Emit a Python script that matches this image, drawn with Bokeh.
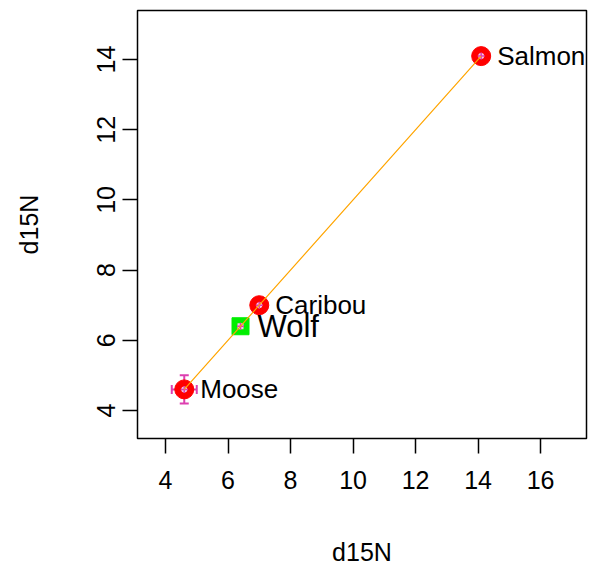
from bokeh.plotting import figure
from bokeh.models import Range1d, ColumnDataSource, Whisker, TeeHead, FixedTicker
from bokeh.embed import file_html
from bokeh.resources import INLINE
from bokeh.core.properties import value

source_names = ["Moose", "Caribou", "Salmon"]
source_x = [4.6, 7.0, 14.1]
source_y = [4.6, 7.0, 14.1]
source_sd_x = [0.4, 0.0, 0.0]
source_sd_y = [0.4, 0.0, 0.0]
consumer_names = ["Wolf"]
consumer_x = [6.4]
consumer_y = [6.4]
x_ticks = [4, 6, 8, 10, 12, 14, 16]
y_ticks = [4, 6, 8, 10, 12, 14]
x_label = "d15N"
y_label = "d15N"

FONT = "Liberation Sans"
FS = "25px"
LABEL_FS = "26px"

p = figure(width=589, height=568,
           x_range=Range1d(3.104, 17.47), y_range=Range1d(3.2, 15.4),
           output_backend="svg", toolbar_location=None,
           min_border_left=137, min_border_right=3,
           min_border_top=10, min_border_bottom=130)

p.grid.visible = False
p.outline_line_color = "black"
p.outline_line_width = 1.5
p.background_fill_color = "white"
p.border_fill_color = "white"

for ax in (p.xaxis[0], p.yaxis[0]):
    ax.axis_line_color = None
    ax.minor_tick_line_color = None
    ax.major_tick_in = 0
    ax.major_tick_out = 15
    ax.major_tick_line_color = "black"
    ax.major_tick_line_width = 1.5
    ax.major_label_text_font = FONT
    ax.major_label_text_font_size = FS
    ax.major_label_text_color = "black"
    ax.axis_label_text_font = FONT
    ax.axis_label_text_font_size = FS
    ax.axis_label_text_font_style = "normal"
    ax.axis_label_text_color = "black"

p.xaxis.ticker = FixedTicker(ticks=x_ticks)
p.yaxis.ticker = FixedTicker(ticks=y_ticks)
p.xaxis.axis_label = x_label
p.yaxis.axis_label = y_label
p.xaxis.major_label_standoff = 17
p.yaxis.major_label_standoff = 7
p.yaxis.major_label_orientation = "vertical"
p.xaxis.axis_label_standoff = 46
p.yaxis.axis_label_standoff = 52

src = ColumnDataSource(dict(name=source_names, x=source_x, y=source_y))
err_idx = [i for i, s in enumerate(source_sd_y) if s > 0]
err = ColumnDataSource(dict(
    x=[source_x[i] for i in err_idx], y=[source_y[i] for i in err_idx],
    x_lo=[source_x[i] - source_sd_x[i] for i in err_idx],
    x_hi=[source_x[i] + source_sd_x[i] for i in err_idx],
    y_lo=[source_y[i] - source_sd_y[i] for i in err_idx],
    y_hi=[source_y[i] + source_sd_y[i] for i in err_idx],
))
cons = ColumnDataSource(dict(name=consumer_names, x=consumer_x, y=consumer_y))

ERR_COL = "#DD3FB0"
p.add_layout(Whisker(source=err, base="x", lower="y_lo", upper="y_hi", dimension="height",
                     line_color=ERR_COL, line_width=2,
                     upper_head=TeeHead(size=9, line_color=ERR_COL, line_width=2),
                     lower_head=TeeHead(size=9, line_color=ERR_COL, line_width=2)))
p.add_layout(Whisker(source=err, base="y", lower="x_lo", upper="x_hi", dimension="width",
                     line_color=ERR_COL, line_width=2,
                     upper_head=TeeHead(size=9, line_color=ERR_COL, line_width=2),
                     lower_head=TeeHead(size=9, line_color=ERR_COL, line_width=2)))

p.scatter("x", "y", source=src, marker="circle", size=19,
          fill_color="red", line_color="red", line_width=1)
p.scatter("x", "y", source=cons, marker="square", size=17,
          fill_color="#00EE00", line_color="#00EE00", line_width=1)

# small centre marks
p.scatter("x", "y", source=src, marker="circle", size=6, fill_color="#F4C8E8", line_color=None)
p.scatter("x", "y", source=src, marker="cross", size=7, line_color=ERR_COL, line_width=1.5)
p.scatter("x", "y", source=cons, marker="square", size=6, fill_color="#F4C8E8", line_color=None)
p.scatter("x", "y", source=cons, marker="cross", size=7, line_color=ERR_COL, line_width=1.5)

p.line(source_x, source_y, line_color="orange", line_width=1.2)

p.text("x", "y", text="name", source=src, x_offset=16, text_baseline="middle",
       text_align="left", text_font=value(FONT), text_font_size=LABEL_FS, text_color="black")
p.text("x", "y", text="name", source=cons, x_offset=17, text_baseline="middle",
       text_align="left", text_font=value(FONT), text_font_size="31px", text_color="black")

open("out.html", "w").write(file_html(p, INLINE))
